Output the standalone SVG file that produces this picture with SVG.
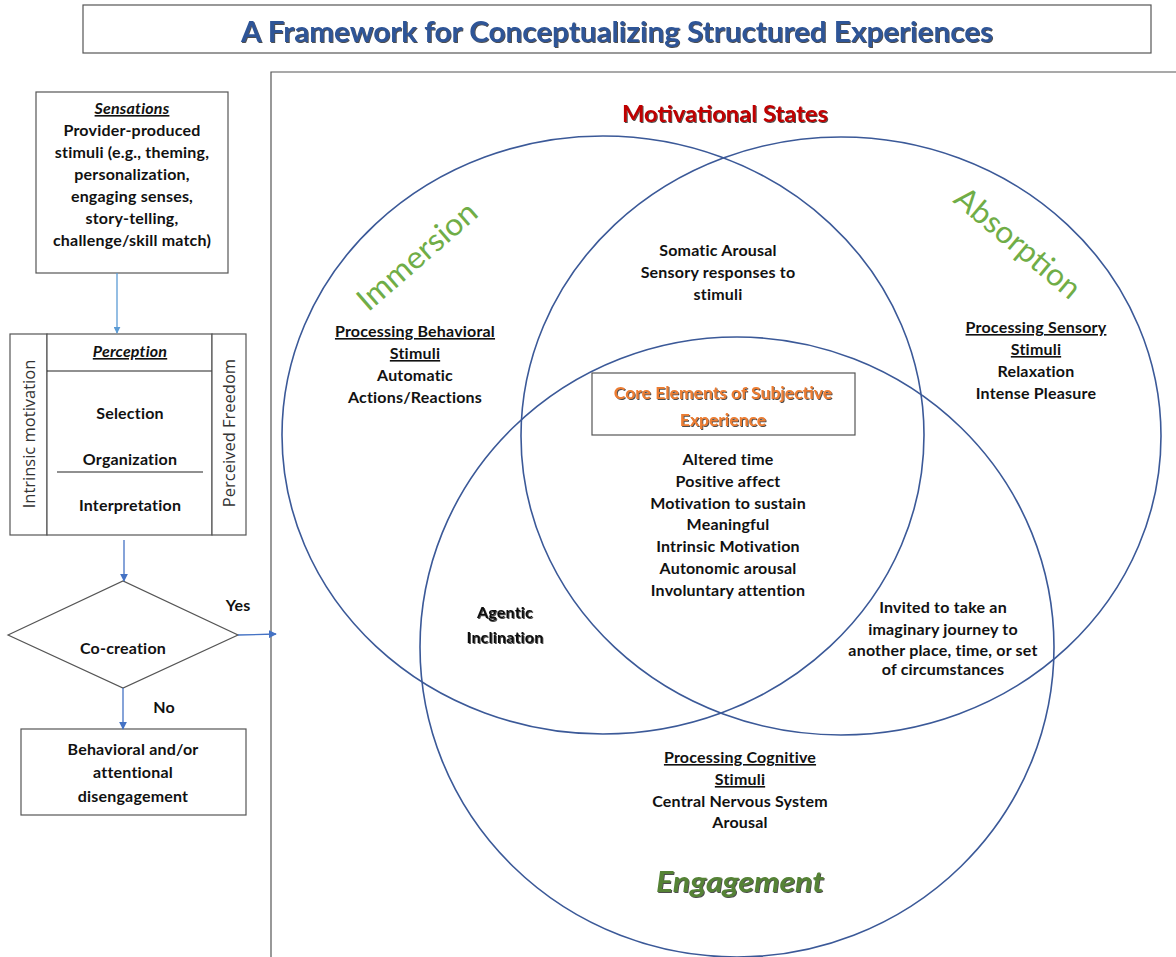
<svg xmlns="http://www.w3.org/2000/svg" width="1176" height="957" viewBox="0 0 1176 957">
  <defs>
    <style>
      .box { fill: #ffffff; stroke: #555555; stroke-width: 1.2; }
      .rule { stroke: #222222; stroke-width: 1.2; }
      .venn { fill: none; stroke: #3B5998; stroke-width: 1.6; }
      .t { font-family: Lato, "Open Sans", "Liberation Sans", sans-serif; font-weight: bold; font-size: 16px; letter-spacing: 0.2px; fill: #111111; text-anchor: middle; }
      .u { text-decoration: underline; }
      .it { font-style: italic; }
      .side { font-family: "Open Sans", "Liberation Sans", sans-serif; font-size: 16.5px; fill: #333333; text-anchor: middle; }
      .green { font-family: Lato, "Open Sans", sans-serif; font-weight: normal; font-size: 31px; fill: #70AD47; text-anchor: middle; }
      .core { font-family: Lato, "Liberation Sans", sans-serif; font-weight: bold; font-size: 17.5px; fill: #ED7D31; text-anchor: middle; }
      .conn { stroke-width: 1.3; fill: none; }
    </style>
    <filter id="shadow" x="-5%" y="-30%" width="110%" height="160%">
      <feDropShadow dx="1" dy="1" stdDeviation="0.4" flood-color="#222222" flood-opacity="0.8"/>
    </filter>
    <marker id="arrLight" viewBox="0 0 10 10" refX="9" refY="5" markerWidth="7" markerHeight="7" orient="auto" markerUnits="userSpaceOnUse">
      <path d="M0,0 L10,5 L0,10 z" fill="#5B9BD5"/>
    </marker>
    <marker id="arrBlue" viewBox="0 0 10 10" refX="9" refY="5" markerWidth="8" markerHeight="8" orient="auto" markerUnits="userSpaceOnUse">
      <path d="M0,0 L10,5 L0,10 z" fill="#4472C4"/>
    </marker>
  </defs>

  <rect width="1176" height="957" fill="#ffffff"/>

  <!-- title banner -->
  <g id="title">
    <rect x="83" y="5" width="1068" height="48" class="box" stroke="#333"/>
    <text x="617" y="42" font-family="Lato, 'Liberation Sans', sans-serif" font-weight="bold" font-size="28" fill="#2F5597" text-anchor="middle" filter="url(#shadow)" textLength="752" lengthAdjust="spacingAndGlyphs">A Framework for Conceptualizing Structured Experiences</text>
  </g>

  <!-- frame around the Venn area -->
  <g id="venn-frame">
    <path d="M1176,72 L271,72 L271,957" fill="none" stroke="#555555" stroke-width="1.2"/>
  </g>

  <!-- left flow column -->
  <g id="sensations">
    <rect x="36" y="92" width="192" height="181" class="box"/>
    <text class="t it u" x="132" y="114">Sensations</text>
    <text class="t" x="132" y="136">Provider-produced</text>
    <text class="t" x="132" y="158">stimuli (e.g., theming,</text>
    <text class="t" x="132" y="180">personalization,</text>
    <text class="t" x="132" y="202">engaging senses,</text>
    <text class="t" x="132" y="224">story-telling,</text>
    <text class="t" x="132" y="246">challenge/skill match)</text>
  </g>

  <g id="intrinsic-motivation">
    <rect x="10" y="334" width="37" height="201" class="box"/>
    <text class="side" transform="translate(35,434) rotate(-90)">Intrinsic motivation</text>
  </g>

  <g id="perception">
    <rect x="47" y="334" width="165" height="201" class="box" stroke="#333"/>
    <line x1="47" y1="371" x2="212" y2="371" class="rule"/>
    <line x1="57" y1="472" x2="203" y2="472" class="rule"/>
    <text class="t it u" x="130" y="357">Perception</text>
    <text class="t" x="130" y="419">Selection</text>
    <text class="t" x="130" y="465">Organization</text>
    <text class="t" x="130" y="511">Interpretation</text>
  </g>

  <g id="perceived-freedom">
    <rect x="212" y="334" width="34" height="201" class="box"/>
    <text class="side" transform="translate(235,433) rotate(-90)">Perceived Freedom</text>
  </g>

  <g id="co-creation">
    <polygon points="8,635 123,581 238,635 123,688" class="box"/>
    <text class="t" x="123" y="654">Co-creation</text>
  </g>

  <g id="disengagement">
    <rect x="21" y="729" width="225" height="86" class="box"/>
    <text class="t" x="133" y="755">Behavioral and/or</text>
    <text class="t" x="133" y="778">attentional</text>
    <text class="t" x="133" y="802">disengagement</text>
  </g>

  <!-- connectors -->
  <g id="connectors">
    <line x1="117" y1="273" x2="117" y2="333" class="conn" stroke="#5B9BD5" marker-end="url(#arrLight)"/>
    <line x1="124" y1="540" x2="124" y2="581" class="conn" stroke="#4472C4" marker-end="url(#arrBlue)"/>
    <line x1="238" y1="635" x2="276" y2="634" class="conn" stroke="#4472C4" marker-end="url(#arrBlue)"/>
    <line x1="123" y1="688" x2="123" y2="729" class="conn" stroke="#4472C4" marker-end="url(#arrBlue)"/>
    <text class="t" x="238" y="611">Yes</text>
    <text class="t" x="164" y="713">No</text>
  </g>

  <!-- Venn diagram of motivational states -->
  <g id="venn-circles">
    <ellipse cx="603" cy="435" rx="321" ry="299" class="venn"/>
    <ellipse cx="841" cy="436" rx="320" ry="299" class="venn"/>
    <ellipse cx="737" cy="647" rx="317" ry="310" class="venn"/>
  </g>

  <g id="motivational-states">
    <text x="725" y="122" font-family="Lato, 'Liberation Sans', sans-serif" font-weight="bold" font-size="22" fill="#C00000" text-anchor="middle" filter="url(#shadow)" textLength="206" lengthAdjust="spacingAndGlyphs">Motivational States</text>
  </g>

  <g id="immersion">
    <text class="green" transform="translate(424,264) rotate(-41)" textLength="148" lengthAdjust="spacingAndGlyphs">Immersion</text>
    <text class="t u" x="415" y="337">Processing Behavioral</text>
    <text class="t u" x="415" y="359">Stimuli</text>
    <text class="t" x="415" y="381">Automatic</text>
    <text class="t" x="415" y="403">Actions/Reactions</text>
  </g>

  <g id="absorption">
    <text class="green" transform="translate(1011,251) rotate(40)" textLength="154" lengthAdjust="spacingAndGlyphs">Absorption</text>
    <text class="t u" x="1036" y="333">Processing Sensory</text>
    <text class="t u" x="1036" y="355">Stimuli</text>
    <text class="t" x="1036" y="377">Relaxation</text>
    <text class="t" x="1036" y="399">Intense Pleasure</text>
  </g>

  <g id="somatic-arousal">
    <text class="t" x="718" y="256">Somatic Arousal</text>
    <text class="t" x="718" y="278">Sensory responses to</text>
    <text class="t" x="718" y="300">stimuli</text>
  </g>

  <g id="core-elements">
    <rect x="592" y="373" width="263" height="62" class="box" stroke="#444"/>
    <text class="core" x="723" y="399" filter="url(#shadow)">Core Elements of Subjective</text>
    <text class="core" x="723" y="426" filter="url(#shadow)">Experience</text>
    <text class="t" x="728" y="465">Altered time</text>
    <text class="t" x="728" y="487">Positive affect</text>
    <text class="t" x="728" y="509">Motivation to sustain</text>
    <text class="t" x="728" y="530">Meaningful</text>
    <text class="t" x="728" y="552">Intrinsic Motivation</text>
    <text class="t" x="728" y="574">Autonomic arousal</text>
    <text class="t" x="728" y="596">Involuntary attention</text>
  </g>

  <g id="agentic-inclination">
    <text class="t" x="505" y="618" font-weight="900" filter="url(#shadow)">Agentic</text>
    <text class="t" x="505" y="643" font-weight="900" filter="url(#shadow)">Inclination</text>
  </g>

  <g id="imaginary-journey">
    <text class="t" x="943" y="613" font-size="15">Invited to take an</text>
    <text class="t" x="943" y="635" font-size="15">imaginary journey to</text>
    <text class="t" x="943" y="656" font-size="15">another place, time, or set</text>
    <text class="t" x="943" y="675" font-size="15">of circumstances</text>
  </g>

  <g id="engagement">
    <text class="t u" x="740" y="763">Processing Cognitive</text>
    <text class="t u" x="740" y="785">Stimuli</text>
    <text class="t" x="740" y="807">Central Nervous System</text>
    <text class="t" x="740" y="828">Arousal</text>
    <text x="740" y="892" font-family="Lato, 'Liberation Sans', sans-serif" font-weight="bold" font-style="italic" font-size="29" fill="#548235" text-anchor="middle" filter="url(#shadow)" textLength="168" lengthAdjust="spacingAndGlyphs">Engagement</text>
  </g>
</svg>
